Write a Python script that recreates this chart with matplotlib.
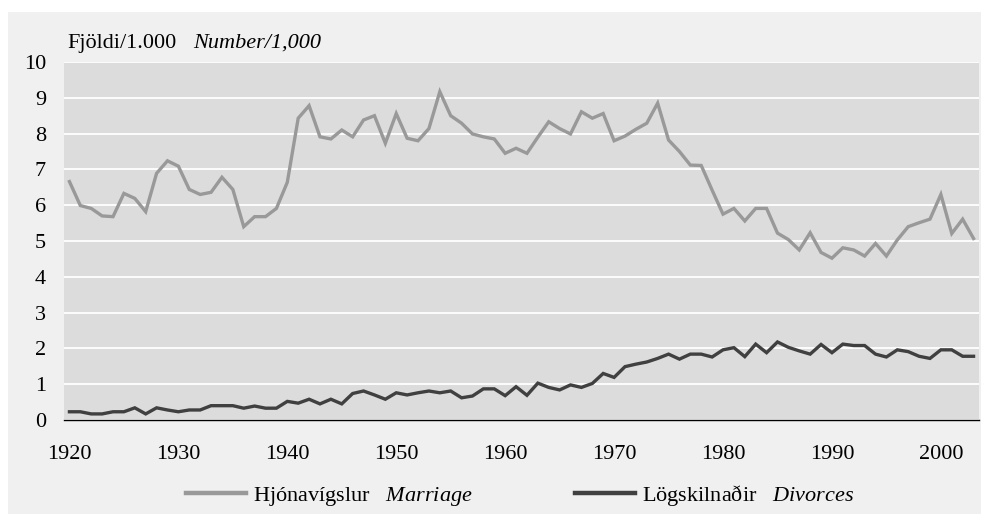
import matplotlib
matplotlib.use("Agg")
import matplotlib.pyplot as plt
import numpy as np
from matplotlib.patches import Rectangle
from matplotlib.lines import Line2D

plt.rcParams["font.family"] = ["Liberation Serif", "DejaVu Serif"]
plt.rcParams["mathtext.fontset"] = "custom"
plt.rcParams["mathtext.it"] = "Liberation Serif:italic"
plt.rcParams["mathtext.rm"] = "Liberation Serif"

# Hjónavígslur / lögskilnaðir á 1.000 íbúa, 1920-2003
years = list(range(1920, 2004))
marriage = [
    6.66, 5.99, 5.91, 5.70, 5.68, 6.33, 6.19, 5.82, 6.89, 7.24,  # 1920-29
    7.09, 6.44, 6.30, 6.36, 6.78, 6.44, 5.40, 5.68, 5.68, 5.91,  # 1930-39
    6.64, 8.43, 8.78, 7.91, 7.85, 8.10, 7.91, 8.38, 8.50, 7.73,  # 1940-49
    8.56, 7.87, 7.80, 8.14, 9.17, 8.50, 8.29, 7.99, 7.91, 7.85,  # 1950-59
    7.45, 7.59, 7.45, 7.90, 8.33, 8.14, 7.99, 8.61, 8.43, 8.56,  # 1960-69
    7.80, 7.93, 8.12, 8.29, 8.85, 7.82, 7.50, 7.12, 7.11, 6.42,  # 1970-79
    5.75, 5.91, 5.56, 5.91, 5.91, 5.22, 5.04, 4.75, 5.23, 4.68,  # 1980-89
    4.52, 4.81, 4.75, 4.58, 4.93, 4.58, 5.03, 5.40, 5.51, 5.61,  # 1990-99
    6.30, 5.21, 5.61, 5.07,                                      # 2000-03
]
divorces = [
    0.23, 0.23, 0.17, 0.17, 0.23, 0.23, 0.34, 0.17, 0.34, 0.28,
    0.23, 0.28, 0.28, 0.40, 0.40, 0.40, 0.33, 0.39, 0.33, 0.33,
    0.52, 0.47, 0.58, 0.45, 0.58, 0.45, 0.74, 0.81, 0.70, 0.58,
    0.76, 0.70, 0.76, 0.81, 0.76, 0.81, 0.62, 0.67, 0.87, 0.87,
    0.68, 0.93, 0.69, 1.03, 0.91, 0.84, 0.98, 0.91, 1.02, 1.30,
    1.19, 1.49, 1.56, 1.62, 1.72, 1.84, 1.70, 1.84, 1.84, 1.76,
    1.96, 2.02, 1.77, 2.12, 1.88, 2.18, 2.03, 1.93, 1.84, 2.11,
    1.88, 2.12, 2.08, 2.08, 1.84, 1.76, 1.96, 1.91, 1.78, 1.72,
    1.96, 1.96, 1.78, 1.78,
]
xticks = list(range(1920, 2001, 10))
yticks = list(range(0, 11))

C_MARR = "#999999"
C_DIV = "#404040"
FS = 16

fig = plt.figure(figsize=(9.82, 5.14), dpi=100, facecolor="white")
# ljosgrar rammi bak vid myndina
bg = Rectangle((8 / 982, 0), 973 / 982, 1 - 12 / 514, transform=fig.transFigure,
               facecolor="#f0f0f0", edgecolor="none", zorder=-10)
fig.add_artist(bg)

ax = fig.add_axes([64 / 982, 1 - 420 / 514, (979 - 64) / 982, (420 - 62) / 514])
ax.set_facecolor("#dcdcdc")
ax.plot(years, marriage, color=C_MARR, lw=2.4, solid_joinstyle="miter", zorder=3)
ax.plot(years, divorces, color=C_DIV, lw=2.4, solid_joinstyle="miter", zorder=3)

ax.set_xlim(1919.5, 2003.5)
ax.set_ylim(0, 10)
ax.set_xticks(xticks)
ax.set_yticks(yticks)
ax.tick_params(axis="both", length=0, labelsize=FS)
ax.tick_params(axis="x", pad=18)
ax.tick_params(axis="y", pad=13)
ax.grid(axis="y", color="white", lw=1.3)
ax.set_axisbelow(True)
for s in ("top", "right", "left"):
    ax.spines[s].set_visible(False)
ax.spines["bottom"].set_color("black")
ax.spines["bottom"].set_linewidth(1.0)
ax.spines["bottom"].set_zorder(4)

fig.text(67 / 982, 1 - 48 / 514, "Fjöldi/1.000", fontsize=FS, va="baseline", ha="left")
fig.text(193 / 982, 1 - 48 / 514, "Number/1,000", fontsize=FS, va="baseline",
         ha="left", style="italic")

handles = [Line2D([], [], color=C_MARR, lw=3.2), Line2D([], [], color=C_DIV, lw=3.2)]
labels = [r"Hjónavígslur   $\mathit{Marriage}$", r"Lögskilnaðir   $\mathit{Divorces}$"]
fig.legend(handles, labels, loc="center", bbox_to_anchor=(520 / 982, 1 - 495 / 514),
           ncol=2, frameon=False, fontsize=FS, handlelength=2.7, handletextpad=0.3,
           columnspacing=4.6)

fig.savefig("out.png", dpi=100, facecolor="white")
